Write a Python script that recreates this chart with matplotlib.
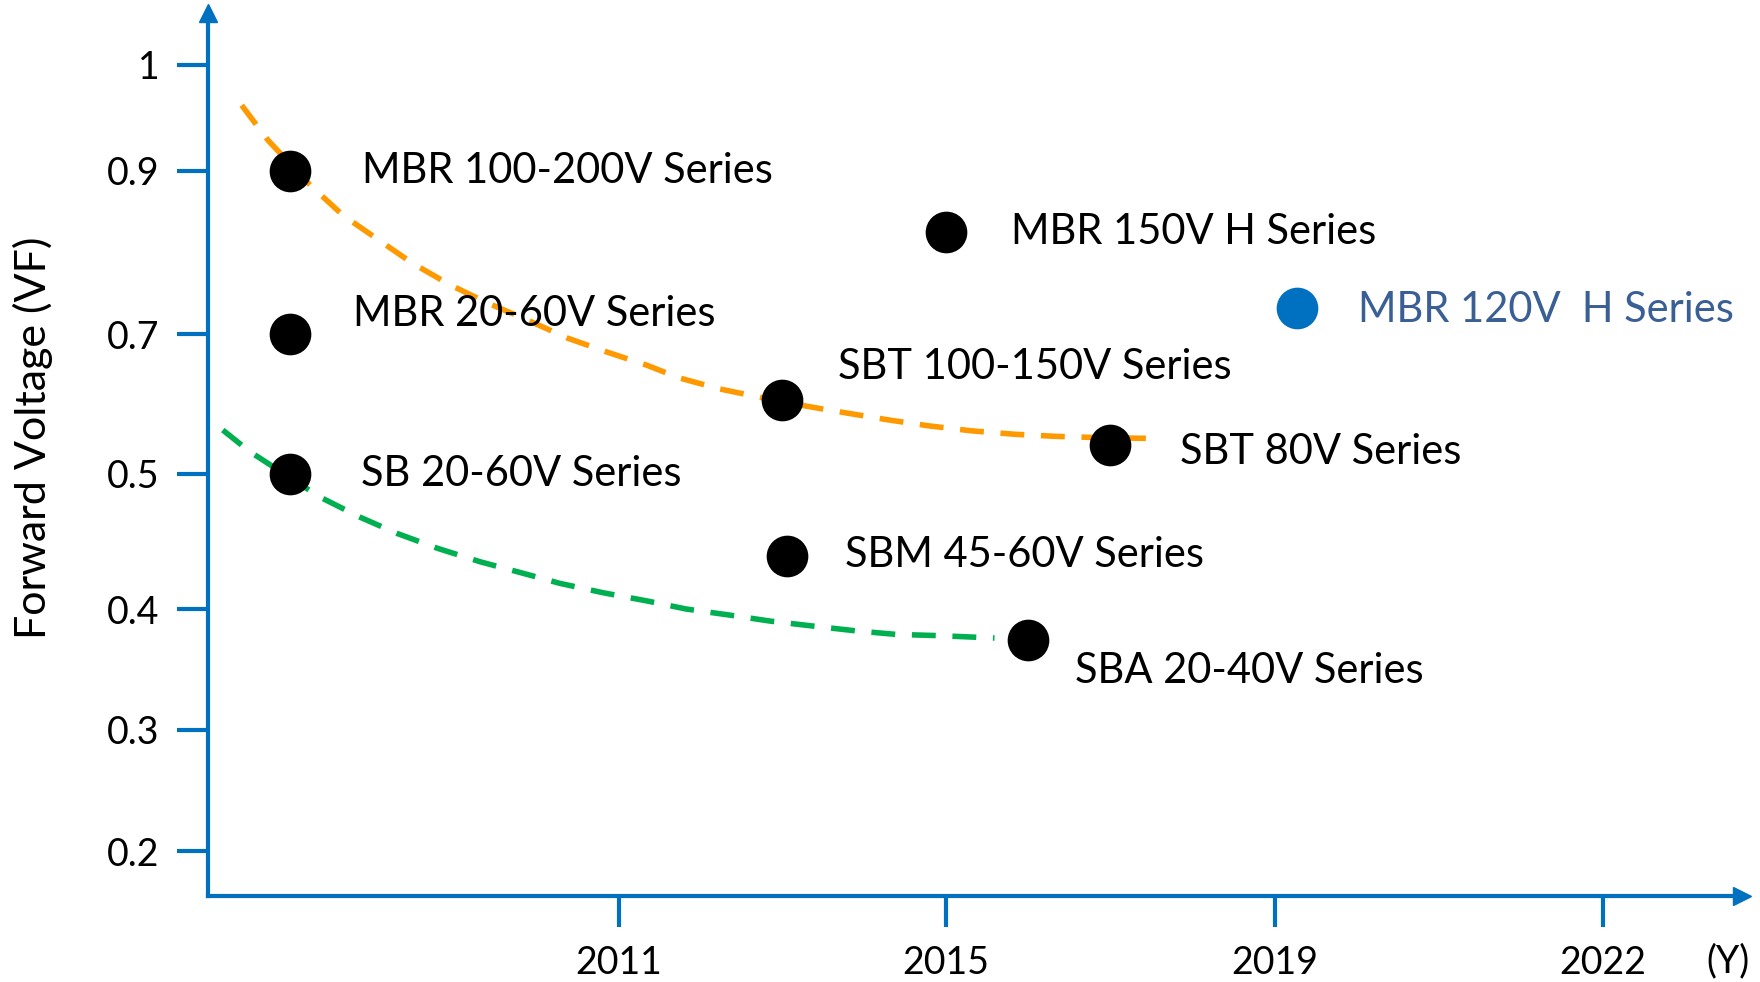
import numpy as np
import matplotlib
matplotlib.use('Agg')
import matplotlib.pyplot as plt

plt.rcParams['font.family'] = ['Lato', 'DejaVu Sans']

# Product series (year, forward voltage)
names = ['MBR 100-200V Series', 'MBR 150V H Series', 'MBR 120V  H Series',
         'MBR 20-60V Series', 'SBT 100-150V Series', 'SBT 80V Series',
         'SB 20-60V Series', 'SBM 45-60V Series', 'SBA 20-40V Series']
years = [2007, 2015, 2019.2, 2007, 2013, 2017, 2007, 2013.05, 2016]
vf = [0.9, 0.825, 0.732, 0.7, 0.606, 0.541, 0.5, 0.439, 0.374]
dot_colors = ['black', 'black', '#0070C0', 'black', 'black', 'black', 'black', 'black', 'black']
text_colors = ['black', 'black', '#3A5F95', 'black', 'black', 'black', 'black', 'black', 'black']

# Trend curves
orange_years = [2006.41, 2006.73, 2007.24, 2007.64, 2008.07, 2008.49, 2008.94, 2009.39, 2009.88,
                2010.37, 2010.85, 2011.34, 2011.73, 2012.23, 2012.97, 2013.5, 2014.27, 2014.79,
                2015.3, 2015.83, 2016.33, 2016.9, 2017.51]
orange_vf = [0.962, 0.929, 0.883, 0.846, 0.816, 0.787, 0.761, 0.739, 0.718,
             0.695, 0.675, 0.656, 0.638, 0.622, 0.604, 0.593, 0.578, 0.569,
             0.562, 0.557, 0.554, 0.552, 0.551]
green_years = [2006.18, 2006.51, 2007.36, 2007.85, 2008.3, 2008.79, 2009.31, 2009.8, 2010.28,
               2010.81, 2011.34, 2011.82, 2012.35, 2012.85, 2013.36, 2013.89, 2014.39, 2014.91, 2015.59]
green_vf = [0.563, 0.532, 0.483, 0.468, 0.456, 0.445, 0.435, 0.427, 0.419,
            0.412, 0.406, 0.4, 0.395, 0.39, 0.386, 0.382, 0.379, 0.378, 0.376]

# Axis ticks
ytick_vals = [0.2, 0.3, 0.4, 0.5, 0.7, 0.9, 1.0]
xtick_vals = [2011, 2015, 2019, 2022]

# the axes are schematic: ticks are evenly spaced, not to value
y_brk = [0.0, 0.2, 0.3, 0.4, 0.5, 0.7, 0.9, 1.0, 1.2]
y_pos = [-197, 45, 166, 287, 422, 561.5, 725, 831, 1043]
x_brk = [2000, 2006, 2011, 2015, 2019, 2022, 2026]
x_pos = [-493, 0, 411, 738, 1067, 1395, 1832]

def yfwd(v):
    return np.interp(v, y_brk, y_pos)

def yinv(p):
    return np.interp(p, y_pos, y_brk)

def xfwd(v):
    return np.interp(v, x_brk, x_pos)

def xinv(p):
    return np.interp(p, x_pos, x_brk)

blue = '#0070C0'
fig = plt.figure(figsize=(17.6, 9.82), dpi=100)
ax = fig.add_axes([208 / 1760, 86 / 982, (1742 - 208) / 1760, (888 - 5) / 982])
ax.set_xscale('function', functions=(xfwd, xinv))
ax.set_yscale('function', functions=(yfwd, yinv))
ax.set_xlim(xinv(0), xinv(1534))
ax.set_ylim(yinv(0), yinv(883))

ax.plot(orange_years, orange_vf, color='#FF9900', lw=4, dashes=(4.3, 3.0), zorder=2)
ax.plot(green_years, green_vf, color='#00B050', lw=4, dashes=(4.3, 3.0), zorder=2)

offsets = [(52, 0), (47, 0), (44, -1), (45, 15), (40, 24), (50, -5), (51, 0), (42, 1), (34, -22)]
for i in range(len(names)):
    ax.plot(years[i], vf[i], 'o', color=dot_colors[i], ms=29, zorder=3)
    ax.annotate(names[i], (years[i], vf[i]), xytext=offsets[i], textcoords='offset points',
                ha='left', va='center', fontsize=30, color=text_colors[i])

ax.set_yticks(ytick_vals)
ax.set_yticklabels(['0.2', '0.3', '0.4', '0.5', '0.7', '0.9', '1'])
ax.set_xticks(xtick_vals)
ax.set_xticklabels([str(y) for y in xtick_vals])
ax.minorticks_off()
ax.tick_params(axis='both', direction='out', length=22, width=3, color=blue,
               labelsize=27, pad=13)

for s in ['top', 'right']:
    ax.spines[s].set_visible(False)
for s in ['left', 'bottom']:
    ax.spines[s].set_color(blue)
    ax.spines[s].set_linewidth(3)

# arrow heads
ax.plot(1, 0, '>', color=blue, ms=13, transform=ax.transAxes, clip_on=False)
ax.plot(0, 1, '^', color=blue, ms=13, transform=ax.transAxes, clip_on=False)

ax.set_ylabel('Forward Voltage (VF)', fontsize=31)
ax.yaxis.set_label_coords(-0.101, 0.519)
fig.text(1728 / 1760, 1 - 961 / 982, '(Y)', fontsize=27, ha='center', va='center')

plt.savefig('out.png', dpi=100)
